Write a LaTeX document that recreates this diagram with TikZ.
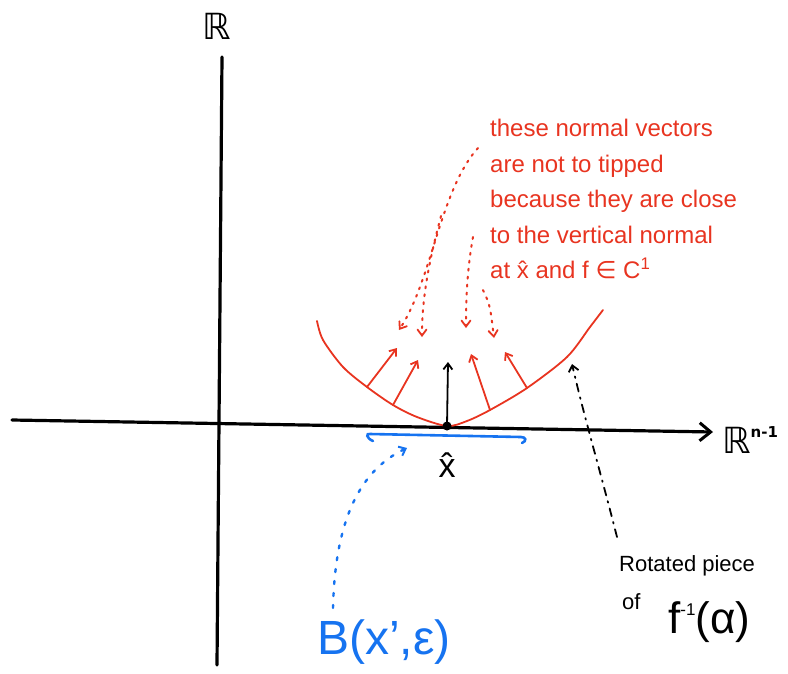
\documentclass[tikz,border=0pt]{standalone}
\usepackage{fontspec}
\setmainfont{Liberation Sans}
\newfontfamily\symfont{DejaVu Sans}
\usetikzlibrary{arrows.meta}
\definecolor{pred}{RGB}{232,52,32}
\definecolor{pblue}{RGB}{22,115,240}
\begin{document}
\begin{tikzpicture}[x=1pt,y=-1pt,
  axis/.style={line width=3.2pt,black,line cap=round},
  redline/.style={line width=1.8pt,pred,line cap=round,line join=round},
  redarrow/.style={redline,-{Straight Barb[length=6pt,width=9pt,line width=1.8pt]}},
  reddot/.style={line width=2pt,pred,dash pattern=on 2pt off 6pt,line cap=round,-{Straight Barb[length=6pt,width=9pt,line width=1.8pt,line cap=round]}},
  bluedot/.style={line width=2.4pt,pblue,dash pattern=on 3pt off 9pt,line cap=round,-{Straight Barb[length=6pt,width=10pt,line width=2pt]}},
  dashdot/.style={line width=1.8pt,black,dash pattern=on 8pt off 6pt on 1.5pt off 6pt,line cap=round,-{Straight Barb[length=6pt,width=10pt,line width=1.8pt]}},
  blackarrow/.style={line width=1.8pt,black,-{Straight Barb[length=6pt,width=9pt,line width=1.8pt]}},
  rednote/.style={pred,align=left,anchor=north west,inner sep=0pt,font=\fontsize{24}{35.5}\selectfont},
  lab/.style={inner sep=0pt}
]
\useasboundingbox (0,0) rectangle (788,673);

% axes
\coordinate (hl) at (12,420);
\coordinate (hr) at (713,432);
\coordinate (vt) at (222,57);
\coordinate (vb) at (217,665);
\draw[axis] (vt) -- (vb);
\draw[axis,-{Straight Barb[length=11pt,width=18pt,line width=3pt]}] (hl) -- (hr);

\node[lab,font=\symfont\fontsize{36}{36}\selectfont] (R) at (217,26) {ℝ};
\node[lab,anchor=west,font=\symfont\fontsize{36}{36}\selectfont] (Rn) at (722,440) {ℝ\raisebox{16pt}{\fontsize{15}{15}\selectfont\bfseries n-1}};

% red curve
\coordinate (c1) at (367,387);
\coordinate (c2) at (393,405);
\coordinate (c0) at (447,426);
\coordinate (c4) at (490,410);
\coordinate (c5) at (527,388);
\draw[redline] plot[smooth,tension=0.5] coordinates {(317,321) (323,340) (343,367) (c1) (c2) (417,417) (c0) (467,421) (c4) (c5) (567,357) (590,327) (603,310)};

% normal arrows
\coordinate (t1) at (397,348);
\coordinate (t2) at (418,360);
\coordinate (t0) at (448,362);
\coordinate (t4) at (471,354);
\coordinate (t5) at (505,352);
\draw[redarrow] (c1) -- (t1);
\draw[redarrow] (c2) -- (t2);
\draw[redarrow] (c4) -- (t4);
\draw[redarrow] (c5) -- (t5);
\draw[blackarrow] (c0) -- (t0);
\fill[black] (c0) circle (4.5pt);

% red note
\node[rednote] (note) at (490,119) {these normal vectors\\are not to tipped\\because they are close\\to the vertical normal\\at \^x and f {\symfont ∈} C\textsuperscript{1}};

% dotted red arrows
\coordinate (s1) at (478,148);
\coordinate (e1) at (399,330);
\coordinate (s2) at (441,216);
\coordinate (e2) at (422,337);
\coordinate (s3) at (473,237);
\coordinate (e3) at (466,328);
\coordinate (s4) at (483,290);
\coordinate (e4) at (494,338);
\draw[reddot] (s1) .. controls (440,190) and (432,280) .. (e1);
\draw[reddot] (s2) .. controls (428,265) and (422,300) .. (e2);
\draw[reddot] (s3) .. controls (467,270) and (466,300) .. (e3);
\draw[reddot] (s4) .. controls (490,305) .. (e4);

% blue interval
\coordinate (bl) at (370,434);
\coordinate (br) at (521,437);
\draw[pblue,line width=2.6pt,line cap=round] (373,441) .. controls (366,438) and (366,433) .. (bl) -- (br) .. controls (526,437) and (527,441) .. (522,443);

\node[lab,font=\fontsize{34}{34}\selectfont] (xh) at (447,465) {\^x};

% B label
\node[lab,pblue,font=\fontsize{48}{48}\selectfont] (B) at (384,642) {B(x',ε)};
\coordinate (be) at (407,448);
\draw[bluedot] (333,608) .. controls (335,520) and (360,470) .. (be);

% rotated piece
\node[lab,font=\fontsize{22}{22}\selectfont,anchor=west] (rot) at (619,566) {Rotated piece};
\node[lab,font=\fontsize{22}{22}\selectfont,anchor=west] (of) at (622,602) {of};
\node[lab,font=\fontsize{44}{44}\selectfont,anchor=west] (finv) at (668,622) {f\raisebox{18pt}{\fontsize{17}{17}\selectfont -1}(α)};
\coordinate (re) at (572,364);
\draw[dashdot] (617,537) .. controls (600,470) and (585,420) .. (re);
\end{tikzpicture}
\end{document}
